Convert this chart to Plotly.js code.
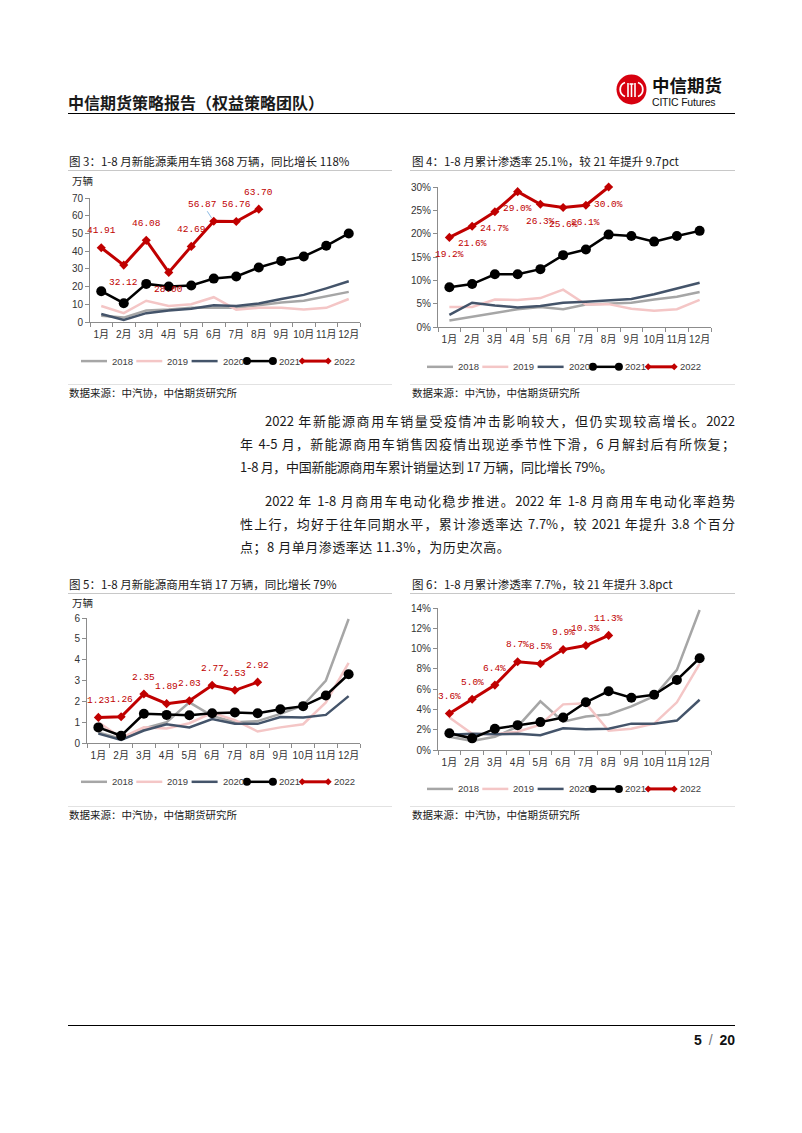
<!DOCTYPE html>
<html lang="zh-CN">
<head>
<meta charset="utf-8">
<script src="https://cdn.plot.ly/plotly-3.0.1.min.js"></script>
<style>
html,body{margin:0;padding:0;background:#fff;}
body{width:802px;height:1133px;position:relative;overflow:hidden;font-family:"Noto Sans CJK SC","Liberation Sans",sans-serif;color:#1a1a1a;}
.abs{position:absolute;white-space:nowrap;}
.hline{position:absolute;height:0;}
.ftitle{position:absolute;font-size:11.5px;line-height:14px;white-space:nowrap;color:#1a1a1a;}
.src{position:absolute;font-size:10.5px;line-height:14px;white-space:nowrap;color:#1a1a1a;}
.bl{position:absolute;font-size:13px;line-height:23px;height:23px;overflow:visible;color:#1a1a1a;}
.bj{text-align:justify;text-align-last:justify;}
.chart{position:absolute;}
</style>
</head>
<body>
<!-- header -->
<div class="abs" style="left:68px;top:91px;font-size:16px;line-height:22px;font-weight:700;">中信期货策略报告（权益策略团队）</div>
<svg class="abs" style="left:616px;top:74px;" width="32" height="31" viewBox="0 0 32 31">
  <circle cx="15.5" cy="15.5" r="15" fill="#d7000f"/>
  <path d="M9,8.5 A7.5 7.5 0 0 0 9,22.5" stroke="#fff" stroke-width="1.8" fill="none"/>
  <path d="M22,8.5 A7.5 7.5 0 0 1 22,22.5" stroke="#fff" stroke-width="1.8" fill="none"/>
  <line x1="12" y1="9" x2="12" y2="23" stroke="#fff" stroke-width="1.6"/>
  <line x1="19" y1="9" x2="19" y2="23" stroke="#fff" stroke-width="1.6"/>
  <line x1="13.5" y1="10" x2="17.5" y2="10" stroke="#fff" stroke-width="1.6"/>
  <line x1="15.5" y1="10" x2="15.5" y2="23" stroke="#fff" stroke-width="1.6"/>
</svg>
<div class="abs" style="left:652px;top:76px;font-size:17.5px;line-height:18px;font-weight:700;color:#111;">中信期货</div>
<div class="abs" style="left:652px;top:96px;font-family:'Liberation Sans',Arial,sans-serif;font-size:10.5px;line-height:12px;letter-spacing:-0.2px;color:#111;">CITIC Futures</div>
<div class="hline" style="left:68px;top:112.5px;width:667px;border-top:1.6px solid #000;"></div>

<!-- figure titles row 1 -->
<div class="ftitle" style="left:69px;top:154px;">图 3：1-8 月新能源乘用车销 368 万辆，同比增长 118%</div>
<div class="ftitle" style="left:412px;top:154px;">图 4：1-8 月累计渗透率 25.1%，较 21 年提升 9.7pct</div>
<div class="hline" style="left:68px;top:170px;width:324px;border-top:1px solid #c8c8c8;"></div>
<div class="hline" style="left:410px;top:170px;width:325px;border-top:1px solid #c8c8c8;"></div>

<div id="c3" class="chart" style="left:60px;top:171px;width:340px;height:205px;"></div>
<div id="c4" class="chart" style="left:400px;top:175px;width:340px;height:205px;"></div>

<div class="hline" style="left:68px;top:384px;width:324px;border-top:1px solid #e2e2e2;"></div>
<div class="hline" style="left:410px;top:384px;width:325px;border-top:1px solid #e2e2e2;"></div>
<div class="src" style="left:69px;top:386px;">数据来源：中汽协，中信期货研究所</div>
<div class="src" style="left:412px;top:386px;">数据来源：中汽协，中信期货研究所</div>

<!-- body text -->
<div class="bl bj" style="left:265px;top:408.5px;width:470px;">2022 年新能源商用车销量受疫情冲击影响较大，但仍实现较高增长。2022</div>
<div class="bl bj" style="left:240px;top:431.5px;width:495px;">年 4-5 月，新能源商用车销售因疫情出现逆季节性下滑，6 月解封后有所恢复；</div>
<div class="bl" style="left:240px;top:454.5px;white-space:nowrap;letter-spacing:-0.3px;">1-8 月，中国新能源商用车累计销量达到 17 万辆，同比增长 79%。</div>
<div class="bl bj" style="left:265px;top:488.5px;width:470px;">2022 年 1-8 月商用车电动化稳步推进。2022 年 1-8 月商用车电动化率趋势</div>
<div class="bl bj" style="left:240px;top:511.5px;width:495px;">性上行，均好于往年同期水平，累计渗透率达 7.7%，较 2021 年提升 3.8 个百分</div>
<div class="bl" style="left:240px;top:534.5px;white-space:nowrap;letter-spacing:0.5px;">点；8 月单月渗透率达 11.3%，为历史次高。</div>

<!-- figure titles row 2 -->
<div class="ftitle" style="left:69px;top:576.5px;">图 5：1-8 月新能源商用车销 17 万辆，同比增长 79%</div>
<div class="ftitle" style="left:412px;top:577px;">图 6：1-8 月累计渗透率 7.7%，较 21 年提升 3.8pct</div>
<div class="hline" style="left:68px;top:593px;width:324px;border-top:1px solid #c8c8c8;"></div>
<div class="hline" style="left:410px;top:593px;width:325px;border-top:1px solid #c8c8c8;"></div>

<div id="c5" class="chart" style="left:60px;top:594px;width:340px;height:205px;"></div>
<div id="c6" class="chart" style="left:400px;top:597px;width:340px;height:205px;"></div>

<div class="hline" style="left:68px;top:806px;width:324px;border-top:1px solid #e2e2e2;"></div>
<div class="hline" style="left:410px;top:806px;width:325px;border-top:1px solid #e2e2e2;"></div>
<div class="src" style="left:69px;top:808px;">数据来源：中汽协，中信期货研究所</div>
<div class="src" style="left:412px;top:808px;">数据来源：中汽协，中信期货研究所</div>

<!-- footer -->
<div class="hline" style="left:68px;top:1025px;width:667px;border-top:1.6px solid #000;"></div>
<div class="abs" style="right:67px;top:1031px;font-family:'Liberation Sans',Arial,sans-serif;font-size:14px;line-height:18px;font-weight:700;word-spacing:3px;color:#111;">5 <span style="font-weight:400;color:#777;">/</span> 20</div>

<script>
// ---------------- data ----------------
const months = ['1月','2月','3月','4月','5月','6月','7月','8月','9月','10月','11月','12月'];
const years = ['2018','2019','2020','2021','2022'];

// 图3 新能源乘用车销量（万辆）
const pvSales2018 = [3.5, 2.5, 6.5, 7.0, 8.0, 8.0, 8.0, 9.5, 11.0, 12.0, 14.5, 17.0];
const pvSales2019 = [9.0, 5.0, 12.0, 9.0, 10.0, 14.0, 7.0, 8.0, 8.0, 7.0, 8.0, 13.0];
const pvSales2020 = [4.5, 1.2, 5.0, 6.5, 7.5, 9.5, 9.0, 10.5, 13.0, 15.3, 19.0, 23.0];
const pvSales2021 = [17.4, 10.6, 21.5, 20.0, 20.6, 24.5, 25.7, 30.8, 34.5, 37.0, 43.0, 50.0];
const pvSales2022 = [41.91, 32.12, 46.08, 28.00, 42.69, 56.87, 56.76, 63.70];

// 图4 乘用车渗透率（%）
const pvPen2018 = [1.4, 2.2, 2.9, 3.8, 4.3, 3.8, 4.8, 5.0, 5.2, 5.9, 6.5, 7.5];
const pvPen2019 = [4.3, 4.3, 5.9, 5.8, 6.2, 8.0, 4.8, 4.9, 3.9, 3.5, 3.8, 5.8];
const pvPen2020 = [2.6, 5.2, 4.6, 4.2, 4.5, 5.2, 5.4, 5.7, 6.0, 7.0, 8.2, 9.5];
const pvPen2021 = [8.5, 9.2, 11.3, 11.3, 12.4, 15.4, 16.6, 19.8, 19.5, 18.3, 19.5, 20.6];
const pvPen2022 = [19.2, 21.6, 24.7, 29.0, 26.3, 25.6, 26.1, 30.0];

// 图5 新能源商用车销量（万辆）
const cvSales2018 = [0.5, 0.2, 0.7, 1.0, 1.95, 1.3, 1.0, 1.05, 1.4, 1.8, 3.0, 5.95];
const cvSales2019 = [1.0, 0.25, 0.75, 0.7, 0.95, 1.45, 1.1, 0.55, 0.75, 0.9, 1.95, 3.85];
const cvSales2020 = [0.45, 0.15, 0.6, 0.9, 0.75, 1.15, 0.92, 0.92, 1.25, 1.22, 1.35, 2.25];
const cvSales2021 = [0.75, 0.35, 1.4, 1.35, 1.33, 1.43, 1.47, 1.43, 1.62, 1.77, 2.28, 3.3];
const cvSales2022 = [1.23, 1.26, 2.35, 1.89, 2.03, 2.77, 2.53, 2.92];

// 图6 商用车渗透率（%）
const cvPen2018 = [1.3, 0.9, 1.3, 2.3, 4.8, 2.8, 3.3, 3.5, 4.3, 5.3, 7.9, 13.8];
const cvPen2019 = [3.2, 1.6, 1.55, 1.8, 2.5, 4.5, 4.6, 1.9, 2.1, 2.6, 4.7, 8.5];
const cvPen2020 = [1.5, 1.6, 1.55, 1.6, 1.45, 2.15, 2.05, 2.1, 2.6, 2.6, 2.9, 4.95];
const cvPen2021 = [1.65, 1.15, 2.1, 2.45, 2.75, 3.2, 4.7, 5.8, 5.15, 5.45, 6.9, 9.05];
const cvPen2022 = [3.6, 5.0, 6.4, 8.7, 8.5, 9.9, 10.3, 11.3];

// ---------------- styles ----------------
const FONT = '"Liberation Sans", Arial, "Noto Sans CJK SC", sans-serif';
const LABEL_FONT = '"Liberation Mono", "DejaVu Sans Mono", monospace';
const RED = '#c00000';
const AXIS = '#8c8c8c';
const styles = [
  {color:'#a6a6a6', width:2.5},
  {color:'#f4c6c6', width:2.5},
  {color:'#44546a', width:2.5},
  {color:'#000000', width:2.5, marker:'circle', msize:10},
  {color:RED, width:3, marker:'diamond', msize:7}
];

function makeChart(id, cfg) {
  const div = cfg.div, p = cfg.plot;
  const ph = p[3] - p[1];
  const margin = {l: p[0]-div[0], t: p[1]-div[1], r: div[0]+div[2]-p[2], b: div[1]+div[3]-p[3], pad:0};
  const traces = cfg.series.map((ys, i) => {
    const s = styles[i];
    const t = {
      type:'scatter', x: months.slice(0, ys.length), y: ys, name: years[i],
      mode: s.marker ? 'lines+markers' : 'lines',
      line:{color:s.color, width:s.width}, cliponaxis:false, hoverinfo:'skip'
    };
    if (s.marker) t.marker = {symbol:s.marker, size:s.msize, color:s.color};
    return t;
  });
  const annotations = [];
  const shapes = [];
  // data labels for 2022
  const last = cfg.series[4];
  last.forEach((v, i) => {
    const pos = cfg.labelPos[i];
    const a = {
      xref:'x', yref:'y', x: months[i], y: v, text: cfg.fmt(v),
      font:{family:LABEL_FONT, size:9.5, color:RED},
      xanchor:'center', yanchor:'middle'
    };
    if (pos === 'lead') {
      Object.assign(a, {showarrow:true, ax:-11, ay:-17, arrowhead:0, arrowwidth:0.8, arrowcolor:'#6fa8dc', standoff:4});
    } else {
      a.showarrow = false;
      a.yshift = pos === 'top' ? 17 : -17;
    }
    annotations.push(a);
  });
  // unit label
  if (cfg.unit) {
    annotations.push({xref:'paper', yref:'paper', x:0, y:1, xshift:cfg.unitDX, yshift:cfg.unitDY,
      xanchor:'left', yanchor:'middle', showarrow:false, text:cfg.unit,
      font:{family:'"Noto Sans CJK SC", sans-serif', size:10.5, color:'#262626'}});
  }
  // custom legend
  const legY = -cfg.legDY / ph;
  const step = 55.3, lineLen = 26;
  years.forEach((yr, i) => {
    const s = styles[i];
    const x0 = cfg.legDX + i*step;
    shapes.push({type:'line', xref:'paper', yref:'paper', xsizemode:'pixel', ysizemode:'pixel',
      xanchor:0, yanchor:legY, x0:x0, x1:x0+lineLen, y0:0, y1:0, line:{color:s.color, width:s.width}});
    if (s.marker === 'circle') {
      [x0, x0+lineLen].forEach(cx => shapes.push({type:'circle', xref:'paper', yref:'paper',
        xsizemode:'pixel', ysizemode:'pixel', xanchor:0, yanchor:legY,
        x0:cx-4, x1:cx+4, y0:-4, y1:4, fillcolor:s.color, line:{width:0}}));
    } else if (s.marker === 'diamond') {
      [x0, x0+lineLen].forEach(cx => shapes.push({type:'path', xref:'paper', yref:'paper',
        xsizemode:'pixel', ysizemode:'pixel', xanchor:0, yanchor:legY,
        path:`M${cx-3.5},0 L${cx},3.5 L${cx+3.5},0 L${cx},-3.5 Z`, fillcolor:s.color, line:{width:0}}));
    }
    annotations.push({xref:'paper', yref:'paper', x:0, y:legY, xshift:x0+lineLen+(s.marker ? 4 : 3), xanchor:'left',
      yanchor:'middle', showarrow:false, text:yr, font:{family:FONT, size:9.5, color:'#404040'}});
  });

  const layout = {
    width: div[2], height: div[3], margin,
    paper_bgcolor:'rgba(0,0,0,0)', plot_bgcolor:'rgba(0,0,0,0)',
    showlegend:false,
    font:{family:FONT, size:10, color:'#404040'},
    xaxis:{type:'category', categoryarray:months, range:[-0.5, 11.5], showline:true, linecolor:AXIS, linewidth:1,
      ticks:'outside', ticklen:4, tickcolor:AXIS, tickson:'boundaries', showgrid:false, zeroline:false,
      tickangle:0, ticklabelstandoff:3, tickfont:{family:FONT, size:10, color:'#333'}, fixedrange:true},
    yaxis:{range:[0, cfg.ymax], tick0:0, dtick:cfg.dtick, ticksuffix:cfg.suffix || '', showline:true,
      linecolor:AXIS, linewidth:1, ticks:'outside', ticklen:4, tickcolor:AXIS, showgrid:false, zeroline:false,
      tickfont:{family:FONT, size:10, color:'#333'}, fixedrange:true},
    annotations, shapes
  };
  Plotly.newPlot(id, traces, layout, {staticPlot:true, displayModeBar:false});
}

const fmt2 = v => v.toFixed(2);
const fmtPct = v => v.toFixed(1) + '%';

makeChart('c3', {
  div:[60,171,340,205], plot:[90,198.3,360,322],
  series:[pvSales2018, pvSales2019, pvSales2020, pvSales2021, pvSales2022],
  ymax:70, dtick:10, fmt:fmt2,
  labelPos:['top','bottom','top','bottom','top','lead','top','top'],
  unit:'万辆', unitDX:-20, unitDY:17.5, legDX:-9, legDY:39
});
makeChart('c4', {
  div:[400,175,340,205], plot:[438.3,186.7,711,327.3],
  series:[pvPen2018, pvPen2019, pvPen2020, pvPen2021, pvPen2022],
  ymax:30, dtick:5, suffix:'%', fmt:fmtPct,
  labelPos:['bottom','bottom','bottom','bottom','bottom','bottom','bottom','bottom'],
  legDX:-11, legDY:40
});
makeChart('c5', {
  div:[60,594,340,205], plot:[86.7,617.7,360,743.3],
  series:[cvSales2018, cvSales2019, cvSales2020, cvSales2021, cvSales2022],
  ymax:6, dtick:1, fmt:fmt2,
  labelPos:['top','top','top','top','top','top','top','top'],
  unit:'万辆', unitDX:-16.7, unitDY:15.5, legDX:-6, legDY:39
});
makeChart('c6', {
  div:[400,597,340,205], plot:[438.3,607.7,711,750],
  series:[cvPen2018, cvPen2019, cvPen2020, cvPen2021, cvPen2022],
  ymax:14, dtick:2, suffix:'%', fmt:fmtPct,
  labelPos:['top','top','top','top','top','top','top','top'],
  legDX:-11, legDY:39
});
</script>
</body>
</html>
